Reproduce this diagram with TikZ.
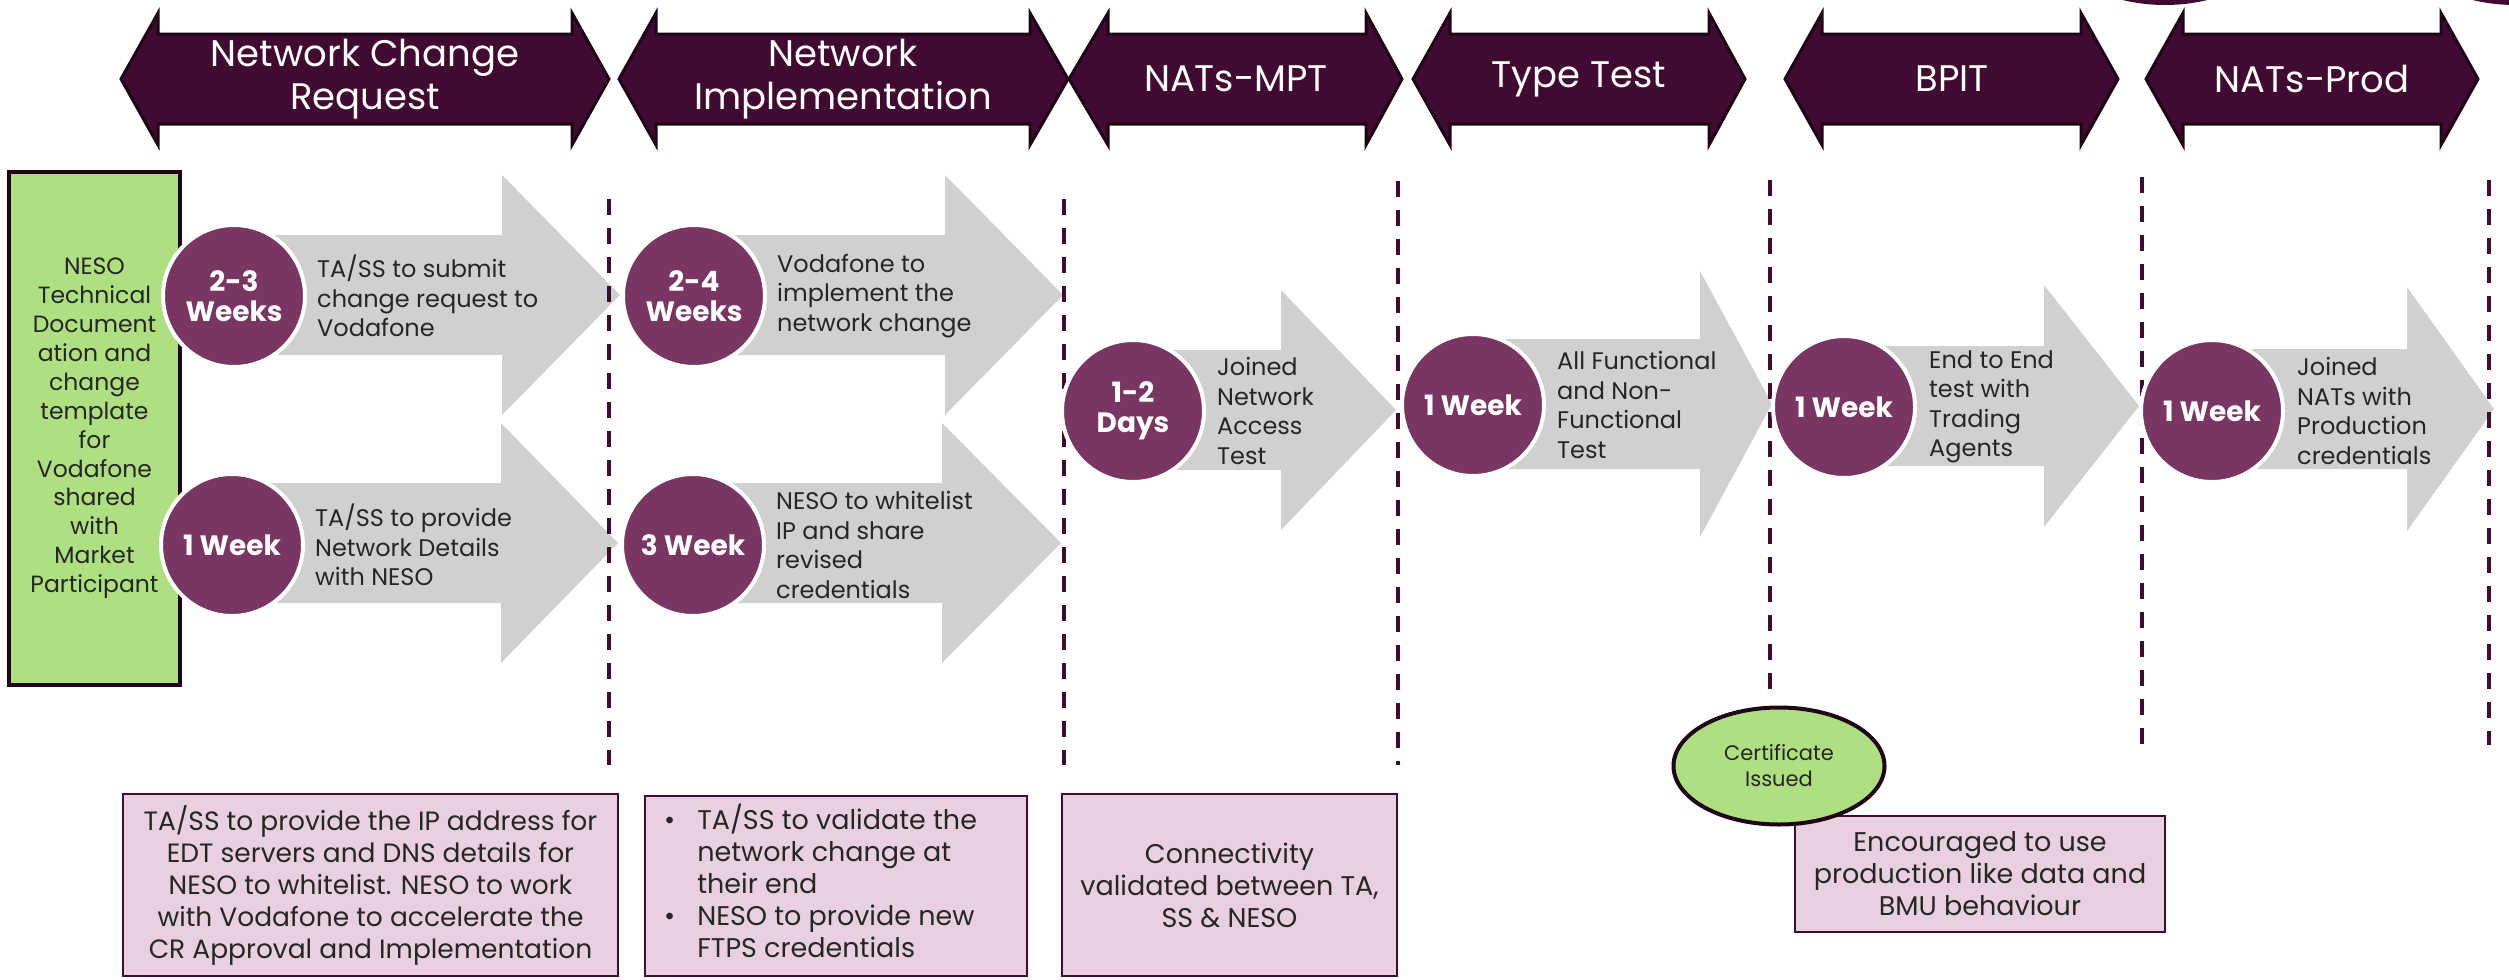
\documentclass[tikz,border=0pt]{standalone}
\usepackage{fontspec}
\setmainfont{Poppins}
\usetikzlibrary{positioning, shapes.geometric}

\definecolor{plum}{RGB}{65,10,48}
\definecolor{plumline}{RGB}{30,4,22}
\definecolor{dotplum}{RGB}{122,54,98}
\definecolor{arrowgray}{RGB}{208,208,208}
\definecolor{leaf}{RGB}{174,223,128}
\definecolor{blush}{RGB}{232,208,224}
\definecolor{ink}{RGB}{38,38,38}

\tikzset{
  durcircle/.style={circle, fill=dotplum, draw=white, line width=4pt, minimum size=142pt,
    inner sep=0pt, text=white, align=center, font=\fontsize{28}{30}\bfseries\selectfont},
  arrowtext/.style={align=left, inner sep=0pt, text=ink, font=\fontsize{24}{29.5}\selectfont},
  notebox/.style={draw=plum, line width=2.5pt, fill=blush, inner sep=0pt, text=ink,
    align=center, font=\fontsize{27}{32}\selectfont},
  divider/.style={draw=plum, line width=4pt, dash pattern=on 16pt off 13pt},
  phasetext/.style={text=white, align=center, font=\fontsize{37}{43}\selectfont},
}

% phase banner: left tip, inner left, inner right, right tip
\newcommand{\phasebanner}[4]{%
  \filldraw[fill=plum, draw=plumline, line width=3pt]
    (#1,79) -- (#2,13) -- (#2,34) -- (#3,34) -- (#3,13) -- (#4,79)
    -- (#3,145) -- (#3,124) -- (#2,124) -- (#2,145) -- cycle;}
% gray block arrow: start, head base, tip, centre, half shaft, half head
\newcommand{\grayarrow}[6]{%
  \fill[arrowgray] ({#1},{#4-#5}) -- ({#2},{#4-#5}) -- ({#2},{#4-#6}) -- ({#3},{#4})
    -- ({#2},{#4+#6}) -- ({#2},{#4+#5}) -- ({#1},{#4+#5}) -- cycle;}

\begin{document}
\begin{tikzpicture}[x=1pt, y=-1pt]
    \useasboundingbox (0,0) rectangle (2509,980);

    % cut-off shapes at the top edge
    \begin{scope}
      \clip (0,0) rectangle (2509,980);
      \fill[plum] (2165,-60) ellipse [x radius=110pt, y radius=65pt];
      \fill[plum] (2515,-60) ellipse [x radius=110pt, y radius=65pt];
    \end{scope}

    % Gray step arrows
    \grayarrow{234}{502}{620}{295}{60}{120}
    \grayarrow{232}{501}{618}{543}{60}{120}
    \grayarrow{694}{945}{1063}{295}{60}{120}
    \grayarrow{693}{942}{1061}{543}{60}{120}
    \grayarrow{1133}{1281}{1396}{410}{60}{120}
    \grayarrow{1473}{1700}{1772}{404}{65}{133}
    \grayarrow{1844}{2044}{2139}{406}{60}{121}
    \grayarrow{2212}{2407}{2494}{409}{60}{122}

    % Documentation box (left side)
    \node[draw=plumline, line width=4pt, fill=leaf, minimum width=171pt, minimum height=513pt,
      inner sep=0pt, text=ink, align=center, font=\fontsize{23.5}{28.9}\selectfont]
      (docs) at (94.5,428.5) {NESO\\Technical\\Document\\ation and\\change\\template\\for\\Vodafone\\shared\\with\\Market\\Participant};

    % Phase dividers
    \draw[divider] (609,199) -- (609,765);
    \draw[divider] (1064,199) -- (1064,765);
    \draw[divider] (1398,181) -- (1398,765);
    \draw[divider] (1770,180) -- (1770,698);
    \draw[divider] (2142,177) -- (2142,745);
    \draw[divider] (2489,180) -- (2489,745);

    % Durations
    \node[durcircle] (cr1) at (234,296) {2-3\\Weeks};
    \node[durcircle] (cr2) at (232,545) {1 Week};
    \node[durcircle] (ni1) at (694,296) {2-4\\Weeks};
    \node[durcircle] (ni2) at (693,545) {3 Week};
    \node[durcircle] (mpt) at (1133,411) {1-2\\Days};
    \node[durcircle] (tt) at (1473,405) {1 Week};
    \node[durcircle] (bpit) at (1844,407) {1 Week};
    \node[durcircle] (prod) at (2212,411) {1 Week};

    % Step texts
    \node[arrowtext, right=10pt of cr1] (cr1t) {TA/SS to submit\\change request to\\Vodafone};
    \node[arrowtext, right=10pt of cr2] (cr2t) {TA/SS to provide\\Network Details\\with NESO};
    \node[arrowtext, right=10pt of ni1] (ni1t) {Vodafone to\\implement the\\network change};
    \node[arrowtext, right=10pt of ni2] (ni2t) {NESO to whitelist\\IP and share\\revised\\credentials};
    \node[arrowtext, right=11pt of mpt] (mptt) {Joined\\Network\\Access\\Test};
    \node[arrowtext, right=11pt of tt] (ttt) {All Functional\\and Non-\\Functional\\Test};
    \node[arrowtext, right=12pt of bpit] (bpitt) {End to End\\test with\\Trading\\Agents};
    \node[arrowtext, right=12pt of prod] (prodt) {Joined\\NATs with\\Production\\credentials};

    % Phase banners
    \phasebanner{121}{158}{572}{609}
    \phasebanner{619}{656}{1030}{1068}
    \phasebanner{1069}{1108}{1366}{1402}
    \phasebanner{1413}{1450}{1709}{1745}
    \phasebanner{1785}{1822}{2081}{2118}
    \phasebanner{2146}{2183}{2441}{2478}
    \node[phasetext] (ph1) at (365,79) {Network Change\\Request};
    \node[phasetext] (ph2) at (843,79) {Network\\Implementation};
    \node[phasetext] (ph3) at (1236,79) {NATs-MPT};
    \node[phasetext] (ph4) at (1579,79) {Type Test};
    \node[phasetext] (ph5) at (1952,79) {BPIT};
    \node[phasetext] (ph6) at (2312,79) {NATs-Prod};

    % Notes below
    \node[notebox, minimum width=495pt, minimum height=182pt, font=\fontsize{26.5}{32}\selectfont] (note1) at (370.5,885)
      {TA/SS to provide the IP address for\\EDT servers and DNS details for\\NESO to whitelist. NESO to work\\with Vodafone to accelerate the\\CR Approval and Implementation};
    \node[notebox, minimum width=382pt, minimum height=180pt] (note2) at (836,886) {};
    \node[anchor=west, inner sep=0pt, text=ink, font=\fontsize{27}{32}\selectfont] (note2t) at (664,886)
      {\begin{tabular}{@{}l@{\hspace{22pt}}l@{}}
        \textbullet & TA/SS to validate the\\
                    & network change at\\
                    & their end\\
        \textbullet & NESO to provide new\\
                    & FTPS credentials
      \end{tabular}};
    \node[notebox, minimum width=335pt, minimum height=182pt] (note3) at (1229.5,885)
      {Connectivity\\validated between TA,\\SS \& NESO};
    \node[notebox, minimum width=370pt, minimum height=116pt] (note4) at (1980,874)
      {Encouraged to use\\production like data and\\BMU behaviour};

    % Certificate
    \node[ellipse, draw=plumline, line width=4pt, fill=leaf, minimum width=211pt, minimum height=117pt,
      inner sep=0pt, text=ink, align=center, font=\fontsize{21}{26}\selectfont]
      (cert) at (1779,766) {Certificate\\Issued};
\end{tikzpicture}
\end{document}
